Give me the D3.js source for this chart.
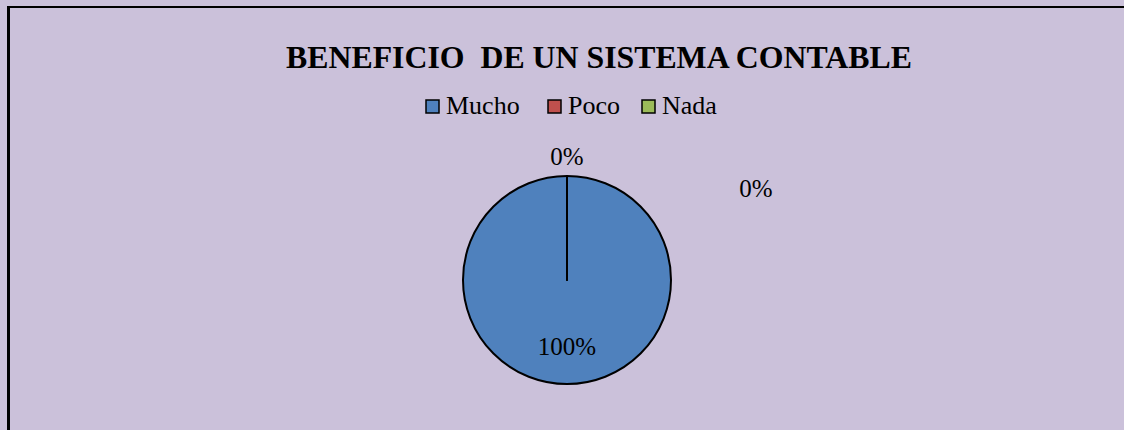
<!DOCTYPE html>
<html>
<head>
<meta charset="utf-8">
<script src="https://cdn.jsdelivr.net/npm/d3@7"></script>
<style>
  body { margin: 0; background: #fff; }
  text { font-family: "Liberation Serif", "Times New Roman", serif; fill: #000; }
</style>
</head>
<body>
<svg id="chart" width="1124" height="430"></svg>
<script>
var title = "BENEFICIO  DE UN SISTEMA CONTABLE";
var categories = ["Mucho", "Poco", "Nada"];
var values = [100, 0, 0];
var colors = ["#4F81BD", "#C0504D", "#9BBB59"];

var svg = d3.select("#chart");

// chart area
svg.append("rect")
  .attr("x", 0).attr("y", 0)
  .attr("width", 1124).attr("height", 430)
  .attr("fill", "#CBC1DA");
svg.append("line")
  .attr("x1", 8.5).attr("y1", 6).attr("x2", 8.5).attr("y2", 430)
  .attr("stroke", "#000").attr("stroke-width", 3);
svg.append("line")
  .attr("x1", 7).attr("y1", 7).attr("x2", 1124).attr("y2", 7)
  .attr("stroke", "#000").attr("stroke-width", 2);

svg.append("text")
  .attr("x", 599).attr("y", 68)
  .attr("text-anchor", "middle")
  .style("white-space", "pre")
  .attr("font-size", 31.8).attr("font-weight", "bold")
  .text(title);

// legend
var legX = [426, 548, 642];
var leg = svg.selectAll(".leg")
  .data(categories)
  .enter().append("g")
  .attr("class", "leg")
  .attr("transform", function(d, i) { return "translate(" + legX[i] + ",100)"; });
leg.append("rect")
  .attr("width", 13).attr("height", 13)
  .attr("fill", function(d, i) { return colors[i]; })
  .attr("stroke", "#000").attr("stroke-width", 1.5);
leg.append("text")
  .attr("x", 20).attr("y", 14)
  .attr("font-size", 26)
  .text(function(d) { return d; });

// pie
var cx = 567, cy = 280, r = 104;
var total = d3.sum(values);
var pie = d3.pie().sort(null).value(function(d) { return d; });
var arcs = pie(values);
var arc = d3.arc().innerRadius(0).outerRadius(r);

var g = svg.append("g").attr("transform", "translate(" + cx + "," + cy + ")");
g.selectAll("path")
  .data(arcs)
  .enter().append("path")
  .attr("d", arc)
  .attr("fill", function(d, i) { return colors[i]; })
  .attr("stroke", "#000").attr("stroke-width", 2)
  .attr("stroke-linejoin", "round");

// labels: zero slices pushed outside, second one nudged away to avoid overlap
var labelPos = function(d, i) {
  var a = (d.startAngle + d.endAngle) / 2;
  var rr = r * 0.64;
  if (d.value === 0) {
    var k = arcs.slice(0, i).filter(function(e) { return e.value === 0; }).length;
    a = a + k * 1.12;
    rr = r + 20 + k * 86;
  }
  return [Math.sin(a) * rr, -Math.cos(a) * rr];
};
g.selectAll(".lbl")
  .data(arcs)
  .enter().append("text")
  .attr("class", "lbl")
  .attr("x", function(d, i) { return labelPos(d, i)[0]; })
  .attr("y", function(d, i) { return labelPos(d, i)[1]; })
  .attr("text-anchor", "middle")
  .attr("dy", "0.35em")
  .attr("font-size", 25)
  .text(function(d) { return Math.round(d.value / total * 100) + "%"; });
</script>
</body>
</html>
